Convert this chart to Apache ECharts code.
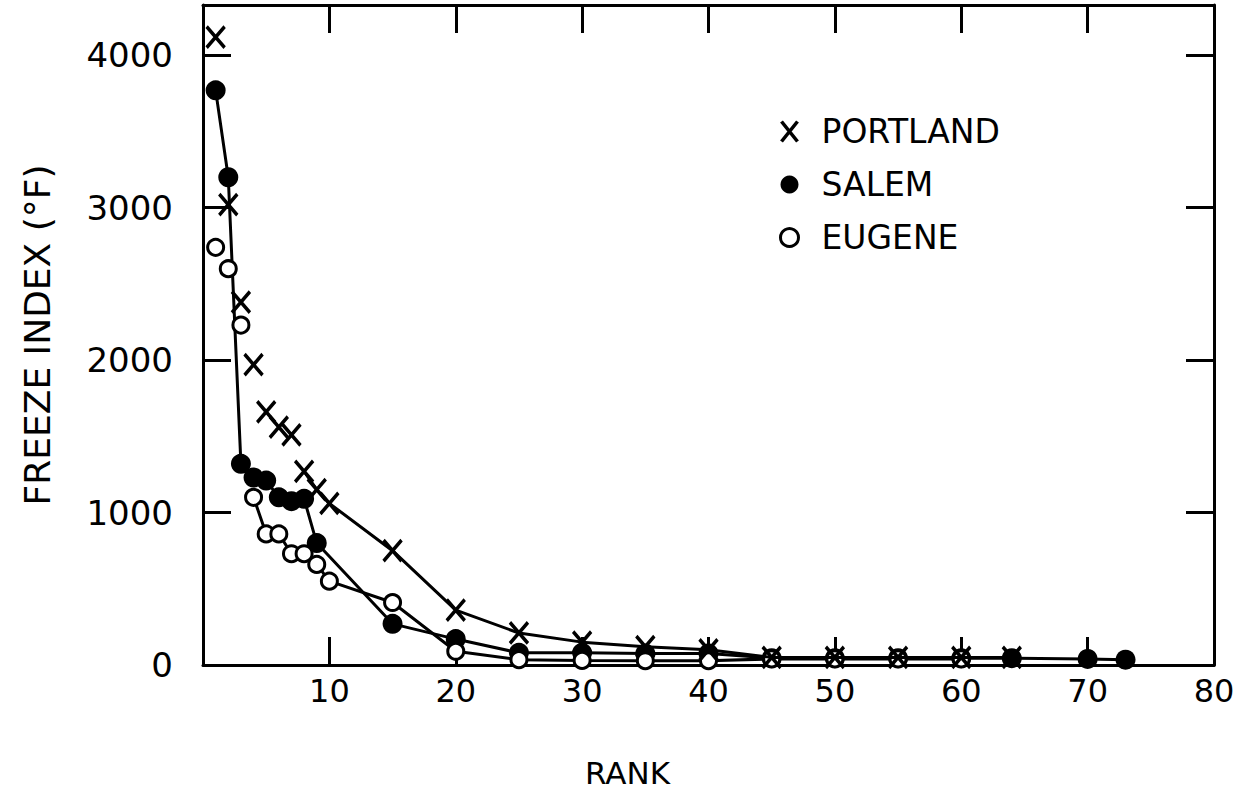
<!DOCTYPE html>
<html>
<head>
<meta charset="utf-8">
<script src="https://cdn.jsdelivr.net/npm/echarts@6/dist/echarts.min.js"></script>
<style>
  html, body { margin: 0; padding: 0; background: #fff; }
  #chart { width: 1242px; height: 799px; }
</style>
</head>
<body>
<div id="chart"></div>
<script>
// Freeze index (°F) of each winter, ranked from most to least severe
const portlandRank  = [1, 2, 3, 4, 5, 6, 7, 8, 9, 10, 15, 20, 25, 30, 35, 40, 45, 50, 55, 60, 64];
const portlandIndex = [4120, 3020, 2380, 1970, 1660, 1560, 1510, 1270, 1150, 1060, 750, 360, 210, 150, 120, 100, 50, 50, 50, 50, 50];

const salemRank  = [1, 2, 3, 4, 5, 6, 7, 8, 9, 15, 20, 25, 30, 35, 40, 45, 50, 55, 60, 64, 70, 73];
const salemIndex = [3770, 3200, 1320, 1230, 1210, 1100, 1075, 1090, 800, 270, 170, 80, 80, 75, 75, 45, 45, 45, 45, 45, 40, 35];

const eugeneRank  = [1, 2, 3, 4, 5, 6, 7, 8, 9, 10, 15, 20, 25, 30, 35, 40, 45, 50, 55, 60];
const eugeneIndex = [2740, 2600, 2230, 1100, 860, 860, 730, 730, 660, 550, 410, 90, 35, 30, 28, 28, 40, 40, 40, 40];

// Points before these positions are plotted loose, the rest are joined by a line
const portlandJoinFrom = 7;
const salemJoinFrom = 0;
const eugeneJoinFrom = 3;

const xTicks = [10, 20, 30, 40, 50, 60, 70, 80];
const yTicks = [0, 1000, 2000, 3000, 4000];

const FONT = 'DejaVu Sans';
const INK = '#000';
const CROSS = 'path://M0,0L16,20M16,0L0,20';

function pairs(xs, ys, from, to) {
  const out = [];
  for (let i = from; i < to; i++) out.push([xs[i], ys[i]]);
  return out;
}

const crossStyle = { color: 'rgba(0,0,0,0)', borderColor: INK, borderWidth: 3.6, opacity: 1 };
const dotStyle = { color: INK, borderColor: INK, borderWidth: 0, opacity: 1 };
const ringStyle = { color: '#fff', borderColor: INK, borderWidth: 3, opacity: 1 };

const chart = echarts.init(document.getElementById('chart'), null, { renderer: 'svg' });

const tickStyle = { show: true, inside: true, length: 28, lineStyle: { color: INK, width: 3 } };
const lineAxis = { show: true, onZero: false, lineStyle: { color: INK, width: 3 } };

chart.setOption({
  animation: false,
  backgroundColor: '#fff',
  grid: { left: 203, right: 28, top: 5, bottom: 134 },
  legend: {
    orient: 'vertical',
    left: 774,
    top: 110,
    itemWidth: 18,
    itemHeight: 20,
    itemGap: 20,
    selectedMode: false,
    textStyle: { fontFamily: FONT, fontSize: 33, color: INK, lineHeight: 30, padding: [0, 0, 0, 18] },
    data: [
      { name: 'PORTLAND', icon: CROSS, itemStyle: crossStyle },
      { name: 'SALEM', icon: 'circle', itemStyle: dotStyle },
      { name: 'EUGENE', icon: 'circle', itemStyle: ringStyle }
    ]
  },
  xAxis: [
    {
      type: 'value', position: 'bottom', min: 0, max: 80, interval: 10,
      axisLine: lineAxis, axisTick: tickStyle, splitLine: { show: false },
      axisLabel: {
        margin: 10, fontFamily: FONT, fontSize: 32, color: INK,
        formatter: v => (xTicks.indexOf(v) >= 0 ? String(v) : '')
      },
      name: 'RANK', nameLocation: 'middle', nameGap: 92,
      nameTextStyle: { fontFamily: FONT, fontSize: 31, color: INK, padding: [0, 162, 0, 0] }
    },
    {
      type: 'value', position: 'top', min: 0, max: 80, interval: 10,
      axisLine: lineAxis, axisTick: tickStyle, axisLabel: { show: false }, splitLine: { show: false }
    }
  ],
  yAxis: [
    {
      type: 'value', position: 'left', min: 0, max: 4330, interval: 1000,
      axisLine: lineAxis, axisTick: tickStyle, splitLine: { show: false },
      axisLabel: {
        margin: 30, fontFamily: FONT, fontSize: 34, color: INK,
        formatter: v => (yTicks.indexOf(v) >= 0 ? String(v) : '')
      },
      name: 'FREEZE INDEX (°F)', nameLocation: 'middle', nameGap: 148, nameRotate: 90,
      nameTextStyle: { fontFamily: FONT, fontSize: 36, color: INK }
    },
    {
      type: 'value', position: 'right', min: 0, max: 4330, interval: 1000,
      axisLine: lineAxis, axisTick: tickStyle, axisLabel: { show: false }, splitLine: { show: false }
    }
  ],
  series: [
    {
      name: 'SALEM', type: 'line', z: 2,
      data: pairs(salemRank, salemIndex, salemJoinFrom, salemRank.length),
      symbol: 'circle', symbolSize: 20, itemStyle: dotStyle,
      lineStyle: { color: INK, width: 3 }
    },
    {
      name: 'EUGENE', type: 'scatter', z: 3,
      data: pairs(eugeneRank, eugeneIndex, 0, eugeneJoinFrom),
      symbol: 'circle', symbolSize: 16, itemStyle: ringStyle
    },
    {
      name: 'EUGENE', type: 'line', z: 3,
      data: pairs(eugeneRank, eugeneIndex, eugeneJoinFrom, eugeneRank.length),
      symbol: 'circle', symbolSize: 16, itemStyle: ringStyle,
      lineStyle: { color: INK, width: 3 }
    },
    {
      name: 'PORTLAND', type: 'scatter', z: 4,
      data: pairs(portlandRank, portlandIndex, 0, portlandJoinFrom),
      symbol: CROSS, symbolSize: [18, 21], symbolKeepAspect: false, itemStyle: crossStyle
    },
    {
      name: 'PORTLAND', type: 'line', z: 4,
      data: pairs(portlandRank, portlandIndex, portlandJoinFrom, portlandRank.length),
      symbol: CROSS, symbolSize: [18, 21], symbolKeepAspect: false, itemStyle: crossStyle,
      lineStyle: { color: INK, width: 3 }
    }
  ]
});
</script>
</body>
</html>
